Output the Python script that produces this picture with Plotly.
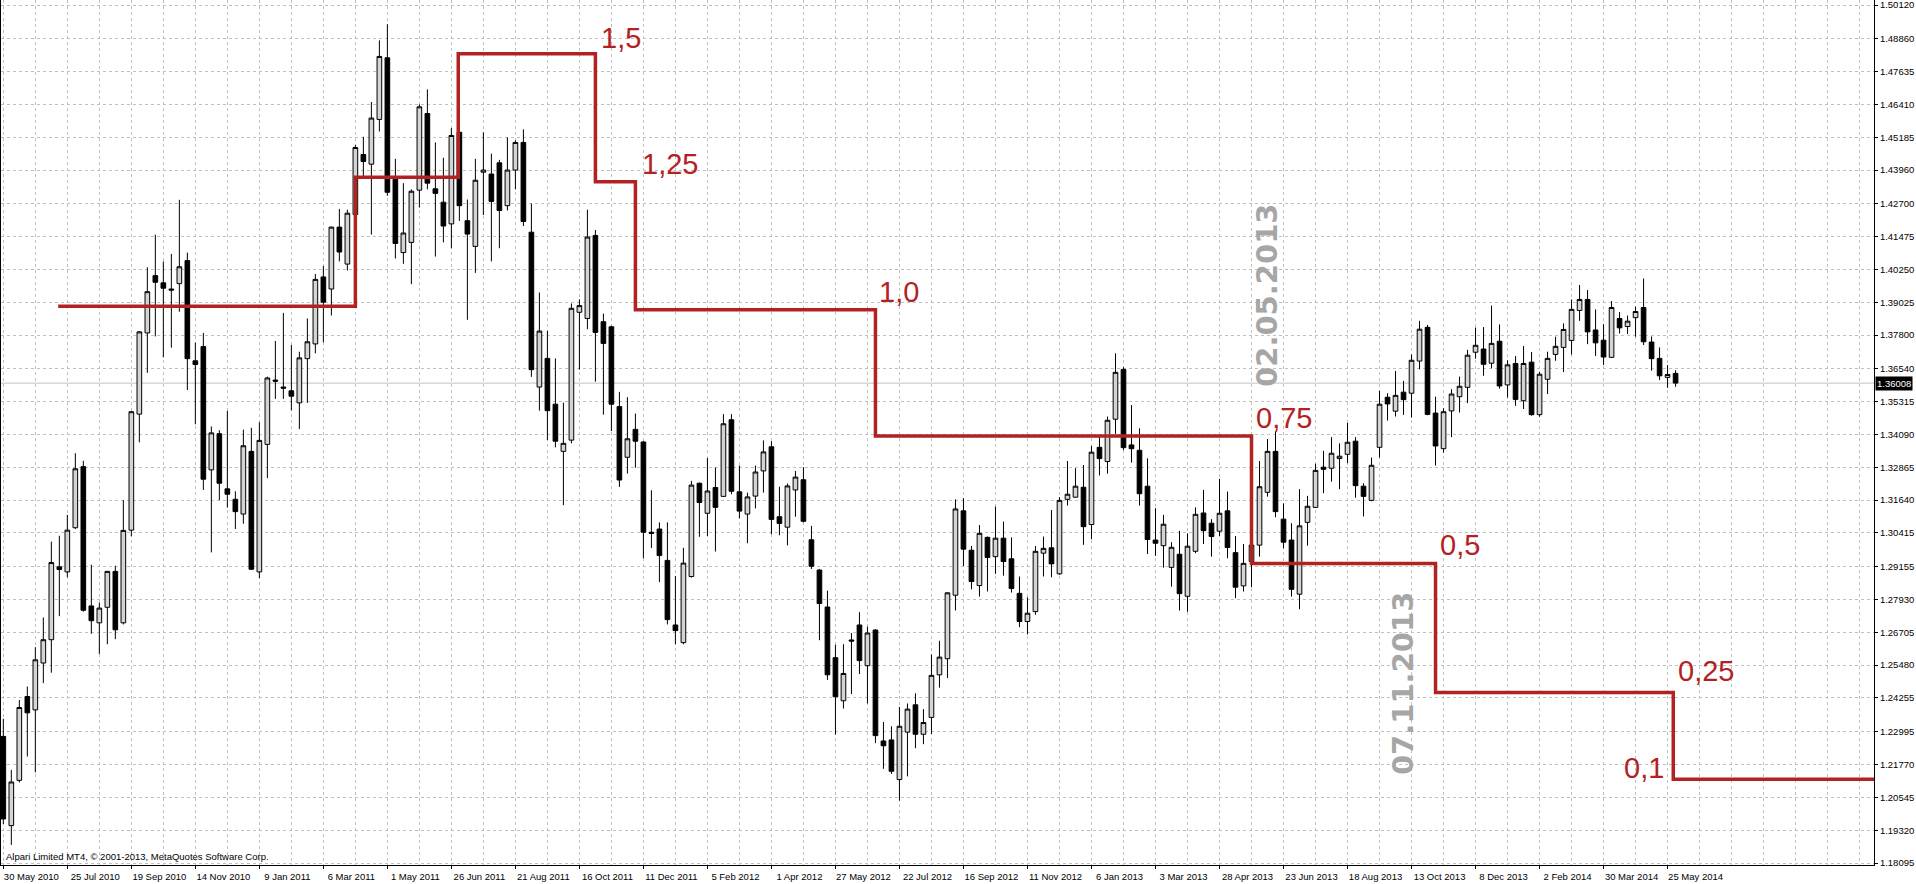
import pandas as pd
import plotly.graph_objects as go

# weekly EUR/USD candles (MT4), first week starts 30 May 2010
first_week = "2010-05-30"

opens = [
    1.2282, 1.1949, 1.2118, 1.2431, 1.2381, 1.2556, 1.2643, 1.2915, 1.2896, 1.3061,
    1.3289, 1.2769, 1.2706, 1.2764, 1.2898, 1.2706, 1.3052, 1.3485, 1.3788, 1.4002,
    1.3975, 1.3952, 1.3972, 1.4058, 1.3684, 1.3737, 1.3277, 1.3412, 1.3206, 1.3167,
    1.3112, 1.3346, 1.2896, 1.3372, 1.3612, 1.3586, 1.3572, 1.3527, 1.3692, 1.3747,
    1.3997, 1.3952, 1.4183, 1.4045, 1.4230, 1.4454, 1.4418, 1.4585, 1.4815, 1.4362,
    1.4088, 1.4126, 1.4321, 1.4607, 1.4326, 1.4276, 1.4195, 1.4537, 1.4207, 1.4111,
    1.4388, 1.4381, 1.4423, 1.4263, 1.4396, 1.4499, 1.4164, 1.3586, 1.3693, 1.3522,
    1.3346, 1.3388, 1.3865, 1.3842, 1.4152, 1.3830, 1.3811, 1.3513, 1.3324, 1.3428,
    1.3381, 1.3044, 1.3056, 1.2939, 1.2698, 1.2632, 1.2879, 1.3227, 1.3115, 1.3211,
    1.3178, 1.3464, 1.3195, 1.3112, 1.3179, 1.3273, 1.3363, 1.3102, 1.3063, 1.3202,
    1.3240, 1.3016, 1.2903, 1.2765, 1.2576, 1.2415, 1.2642, 1.2698, 1.2546, 1.2679,
    1.2265, 1.2269, 1.2121, 1.2298, 1.2400, 1.2290, 1.2353, 1.2512, 1.2572, 1.2809,
    1.3124, 1.2977, 1.2845, 1.3025, 1.2953, 1.3022, 1.2945, 1.2816, 1.2711, 1.2748,
    1.2966, 1.2986, 1.2889, 1.3167, 1.3175, 1.3212, 1.3073, 1.3361, 1.3308, 1.3466,
    1.3652, 1.3370, 1.3350, 1.3216, 1.3015, 1.2994, 1.2913, 1.2962, 1.2805, 1.2973,
    1.3116, 1.3078, 1.3048, 1.3124, 1.2968, 1.2844, 1.2935, 1.2996, 1.3193, 1.3346,
    1.3093, 1.3015, 1.2813, 1.3081, 1.3137, 1.3287, 1.3283, 1.3319, 1.3335, 1.3384,
    1.3216, 1.3163, 1.3361, 1.3548, 1.3496, 1.3567, 1.3563, 1.3683, 1.3809, 1.3489,
    1.3356, 1.3497, 1.3550, 1.3585, 1.3716, 1.3728, 1.3675, 1.3757, 1.3594, 1.3674,
    1.3535, 1.3679, 1.3483, 1.3615, 1.3708, 1.3734, 1.3760, 1.3872, 1.3913, 1.3799,
    1.3761, 1.3697, 1.3842, 1.3812, 1.3845, 1.3883, 1.3754, 1.3693, 1.3622, 1.3637,
]
highs = [
    1.2348, 1.2157, 1.2418, 1.2468, 1.2615, 1.2726, 1.3009, 1.3031, 1.3109, 1.3339,
    1.3311, 1.2923, 1.2781, 1.2900, 1.2919, 1.3164, 1.3497, 1.3795, 1.4033, 1.4155,
    1.4055, 1.4083, 1.4285, 1.4088, 1.3752, 1.3788, 1.3439, 1.3425, 1.3497, 1.3197,
    1.3427, 1.3434, 1.3455, 1.3625, 1.3758, 1.3863, 1.3743, 1.3718, 1.3842, 1.4008,
    1.4038, 1.4185, 1.4251, 1.4248, 1.4490, 1.4520, 1.4650, 1.4880, 1.4940, 1.4438,
    1.4347, 1.4324, 1.4641, 1.4697, 1.4499, 1.4442, 1.4553, 1.4579, 1.4286, 1.4438,
    1.4537, 1.4457, 1.4434, 1.4518, 1.4507, 1.4548, 1.4271, 1.3939, 1.3796, 1.3693,
    1.3528, 1.3898, 1.3913, 1.4248, 1.4172, 1.3860, 1.3815, 1.3568, 1.3548, 1.3487,
    1.3385, 1.3201, 1.3081, 1.3081, 1.2881, 1.2986, 1.3236, 1.3230, 1.3321, 1.3286,
    1.3485, 1.3485, 1.3293, 1.3192, 1.3293, 1.3387, 1.3384, 1.3214, 1.3226, 1.3273,
    1.3287, 1.3068, 1.2907, 1.2826, 1.2624, 1.2626, 1.2668, 1.2746, 1.2692, 1.2683,
    1.2336, 1.2320, 1.2392, 1.2405, 1.2443, 1.2384, 1.2588, 1.2639, 1.2820, 1.3167,
    1.3171, 1.2993, 1.3071, 1.3028, 1.3140, 1.3084, 1.3025, 1.2879, 1.2801, 1.2993,
    1.3028, 1.3127, 1.3175, 1.3310, 1.3283, 1.3295, 1.3366, 1.3404, 1.3476, 1.3712,
    1.3660, 1.3519, 1.3432, 1.3320, 1.3134, 1.3109, 1.3007, 1.3049, 1.3040, 1.3137,
    1.3202, 1.3093, 1.3243, 1.3196, 1.3030, 1.3000, 1.3050, 1.3310, 1.3392, 1.3420,
    1.3152, 1.3078, 1.3205, 1.3180, 1.3300, 1.3348, 1.3399, 1.3376, 1.3452, 1.3399,
    1.3227, 1.3323, 1.3572, 1.3563, 1.3646, 1.3609, 1.3708, 1.3833, 1.3818, 1.3550,
    1.3507, 1.3578, 1.3625, 1.3725, 1.3808, 1.3810, 1.3890, 1.3820, 1.3686, 1.3702,
    1.3739, 1.3717, 1.3643, 1.3718, 1.3774, 1.3824, 1.3913, 1.3967, 1.3948, 1.3876,
    1.3821, 1.3907, 1.3866, 1.3853, 1.3886, 1.3991, 1.3775, 1.3734, 1.3668, 1.3649,
]
lows = [
    1.1955, 1.1877, 1.2110, 1.2207, 1.2148, 1.2481, 1.2520, 1.2731, 1.2876, 1.3056,
    1.2748, 1.2665, 1.2590, 1.2626, 1.2645, 1.2700, 1.3029, 1.3380, 1.3639, 1.3775,
    1.3697, 1.3733, 1.3867, 1.3575, 1.3447, 1.3202, 1.2969, 1.3164, 1.3136, 1.3056,
    1.3076, 1.2903, 1.2873, 1.3246, 1.3542, 1.3542, 1.3499, 1.3429, 1.3527, 1.3712,
    1.3753, 1.3853, 1.4055, 1.4021, 1.4151, 1.4366, 1.4155, 1.4540, 1.4300, 1.4066,
    1.4046, 1.3970, 1.4256, 1.4324, 1.4073, 1.4126, 1.4104, 1.4206, 1.3837, 1.4012,
    1.4228, 1.4055, 1.4104, 1.4245, 1.4324, 1.4187, 1.3624, 1.3498, 1.3388, 1.3361,
    1.3145, 1.3376, 1.3651, 1.3802, 1.3606, 1.3483, 1.3422, 1.3213, 1.3263, 1.3285,
    1.2947, 1.2985, 1.2858, 1.2700, 1.2626, 1.2626, 1.2875, 1.3027, 1.3030, 1.2972,
    1.3176, 1.3186, 1.3096, 1.3003, 1.3133, 1.3192, 1.3037, 1.3033, 1.2995, 1.3102,
    1.3081, 1.2907, 1.2641, 1.2493, 1.2289, 1.2386, 1.2440, 1.2515, 1.2405, 1.2257,
    1.2161, 1.2142, 1.2042, 1.2133, 1.2238, 1.2253, 1.2291, 1.2464, 1.2500, 1.2752,
    1.2918, 1.2831, 1.2804, 1.2823, 1.2889, 1.2882, 1.2819, 1.2690, 1.2663, 1.2736,
    1.2879, 1.2876, 1.2885, 1.3144, 1.3173, 1.2997, 1.3018, 1.3256, 1.3263, 1.3411,
    1.3351, 1.3304, 1.3144, 1.2963, 1.2956, 1.2912, 1.2841, 1.2752, 1.2747, 1.2966,
    1.3000, 1.2953, 1.3030, 1.2947, 1.2798, 1.2823, 1.2839, 1.2953, 1.3177, 1.3100,
    1.2984, 1.2804, 1.2757, 1.2994, 1.3136, 1.3190, 1.3233, 1.3205, 1.3302, 1.3173,
    1.3103, 1.3160, 1.3323, 1.3461, 1.3476, 1.3482, 1.3472, 1.3652, 1.3481, 1.3293,
    1.3341, 1.3399, 1.3491, 1.3526, 1.3692, 1.3628, 1.3656, 1.3580, 1.3547, 1.3516,
    1.3504, 1.3479, 1.3475, 1.3560, 1.3684, 1.3642, 1.3707, 1.3833, 1.3746, 1.3702,
    1.3668, 1.3695, 1.3786, 1.3784, 1.3774, 1.3743, 1.3647, 1.3612, 1.3583, 1.3587,
]
closes = [
    1.1974, 1.2112, 1.2390, 1.2370, 1.2568, 1.2643, 1.2931, 1.2905, 1.3052, 1.3281,
    1.2753, 1.2714, 1.2761, 1.2898, 1.2680, 1.3051, 1.3494, 1.3792, 1.3942, 1.3977,
    1.3955, 1.3948, 1.4035, 1.3692, 1.3670, 1.3242, 1.3415, 1.3227, 1.3186, 1.3121,
    1.3367, 1.2906, 1.3387, 1.3620, 1.3608, 1.3582, 1.3552, 1.3695, 1.3755, 1.3988,
    1.3903, 1.4183, 1.4090, 1.4235, 1.4480, 1.4428, 1.4590, 1.4820, 1.4313, 1.4122,
    1.4161, 1.4317, 1.4632, 1.4347, 1.4309, 1.4187, 1.4525, 1.4263, 1.4157, 1.4358,
    1.4396, 1.4279, 1.4245, 1.4396, 1.4499, 1.4204, 1.3651, 1.3795, 1.3498, 1.3384,
    1.3376, 1.3880, 1.3890, 1.4146, 1.3790, 1.3749, 1.3522, 1.3239, 1.3393, 1.3384,
    1.3044, 1.3040, 1.2957, 1.2718, 1.2677, 1.2929, 1.3220, 1.3155, 1.3198, 1.3137,
    1.3449, 1.3197, 1.3123, 1.3176, 1.3269, 1.3344, 1.3092, 1.3077, 1.3217, 1.3250,
    1.3085, 1.2917, 1.2778, 1.2512, 1.2430, 1.2517, 1.2638, 1.2565, 1.2668, 1.2285,
    1.2247, 1.2152, 1.2320, 1.2384, 1.2290, 1.2334, 1.2510, 1.2578, 1.2818, 1.3131,
    1.2981, 1.2860, 1.3040, 1.2950, 1.3022, 1.2935, 1.2834, 1.2711, 1.2742, 1.2973,
    1.2984, 1.2926, 1.3163, 1.3186, 1.3216, 1.3065, 1.3343, 1.3319, 1.3462, 1.3641,
    1.3360, 1.3356, 1.3188, 1.3017, 1.3003, 1.3074, 1.2988, 1.2815, 1.2992, 1.3111,
    1.3050, 1.3028, 1.3115, 1.2987, 1.2839, 1.2928, 1.2996, 1.3214, 1.3346, 1.3121,
    1.3007, 1.2831, 1.3068, 1.3141, 1.3275, 1.3279, 1.3339, 1.3328, 1.3380, 1.3218,
    1.3178, 1.3294, 1.3522, 1.3523, 1.3555, 1.3539, 1.3686, 1.3802, 1.3484, 1.3366,
    1.3494, 1.3560, 1.3589, 1.3705, 1.3742, 1.3671, 1.3749, 1.3590, 1.3669, 1.3540,
    1.3674, 1.3483, 1.3634, 1.3693, 1.3738, 1.3801, 1.3876, 1.3913, 1.3792, 1.3751,
    1.3698, 1.3883, 1.3807, 1.3832, 1.3868, 1.3755, 1.3692, 1.3628, 1.3633, 1.36008,
]

# hand-drawn ECB rate steps, as price levels on the chart
rate_dates = ["2010-07-17", "2011-04-03", "2011-07-02", "2011-10-30", "2011-12-04",
              "2012-07-01", "2013-05-26", "2013-11-03", "2014-05-30"]
rate_levels = [1.3888, 1.4369, 1.4830, 1.4352, 1.3875, 1.3403, 1.2927, 1.2446, 1.2122]

price_ticks = [1.50120, 1.48860, 1.47635, 1.46410, 1.45185, 1.43960, 1.42700, 1.41475,
               1.40250, 1.39025, 1.37800, 1.36540, 1.35315, 1.34090, 1.32865, 1.31640,
               1.30415, 1.29155, 1.27930, 1.26705, 1.25480, 1.24255, 1.22995, 1.21770,
               1.20545, 1.19320, 1.18095]

RED = "#B22222"
GRID = "#C0C0C0"
WEEK_MS = 7 * 24 * 3600 * 1000
AXIS_FONT = dict(family="Liberation Sans, Arial", size=9.5, color="black")

start = pd.Timestamp(first_week)
weeks = pd.date_range(start, periods=len(opens), freq="7D")


def week_pos(w):
    return start + pd.Timedelta(days=7 * w)


x_left = week_pos(-0.29)
x_right = week_pos(233.8)

fig = go.Figure()

fig.add_trace(go.Scatter(
    x=[pd.Timestamp(d) for d in rate_dates] + [x_right],
    y=rate_levels + [rate_levels[-1]],
    mode="lines", line=dict(color=RED, width=3.5, shape="hv"),
    hoverinfo="skip", showlegend=False))

fig.add_trace(go.Candlestick(
    x=weeks, open=opens, high=highs, low=lows, close=closes,
    increasing=dict(line=dict(color="black", width=1), fillcolor="#D4D4D4"),
    decreasing=dict(line=dict(color="black", width=1), fillcolor="black"),
    whiskerwidth=0, showlegend=False))

# current price line + label
fig.add_shape(type="line", xref="paper", x0=0, x1=1, y0=closes[-1], y1=closes[-1],
              line=dict(color=GRID, width=1), layer="between")
fig.add_annotation(xref="paper", x=1, y=closes[-1], text=f"{closes[-1]:.5f}",
                   showarrow=False, xanchor="left", xshift=1, bgcolor="black",
                   borderpad=1, font=dict(family="Liberation Sans, Arial", size=9.5, color="white"))

# rate labels
rate_text = [("1,5", 74.5, 1.4900), ("1,25", 79.6, 1.4430), ("1,0", 109.2, 1.3952),
             ("0,75", 156.3, 1.3482), ("0,5", 179.3, 1.3008), ("0,25", 209.1, 1.2537),
             ("0,1", 202.3, 1.2175)]
for txt, w, y in rate_text:
    fig.add_annotation(x=week_pos(w), y=y, text=txt, showarrow=False,
                       xanchor="left", yanchor="middle", yshift=-3,
                       font=dict(family="Liberation Sans, Arial", size=29, color=RED))

for txt, w, y in [("02.05.2013", 158.0, 1.3928), ("07.11.2013", 174.96, 1.2478)]:
    fig.add_annotation(x=week_pos(w), y=y, text=f"<b>{txt}</b>", showarrow=False,
                       textangle=-90, xanchor="center", yanchor="middle",
                       font=dict(family="DejaVu Sans", size=29, color="#A6A6A6"))

fig.add_annotation(xref="paper", yref="paper", x=0, y=0, xanchor="left", yanchor="bottom",
                   xshift=3, yshift=1, showarrow=False,
                   text="Alpari Limited MT4, © 2001-2013, MetaQuotes Software Corp.",
                   font=AXIS_FONT)

fig.update_layout(
    width=1916, height=884,
    margin=dict(l=1, r=42, t=0, b=19),
    paper_bgcolor="white", plot_bgcolor="white",
    boxgap=0.42, boxgroupgap=0,
    xaxis=dict(
        type="date", range=[x_left, x_right], rangeslider=dict(visible=False),
        tickmode="array", tickvals=list(weeks[::8]), tickformat="%-d %b %Y",
        showgrid=False, zeroline=False,
        minor=dict(tickmode="linear", tick0=first_week, dtick=4 * WEEK_MS, showgrid=True,
                   gridcolor=GRID, griddash="3px,3px", gridwidth=1, ticks=""),
        showline=True, linecolor="black", linewidth=1,
        ticks="outside", ticklen=3, tickcolor="black",
        ticklabelshift=28, ticklabeloverflow="allow", tickfont=AXIS_FONT),
    yaxis=dict(
        side="right", range=[1.18021, 1.50307],
        tickmode="array", tickvals=price_ticks, ticktext=[f"{v:.5f}" for v in price_ticks],
        showgrid=True, gridcolor=GRID, griddash="3px,3px", gridwidth=1, zeroline=False,
        showline=True, mirror=True, linecolor="black", linewidth=1,
        ticks="outside", ticklen=3, tickcolor="black",
        ticklabeloverflow="allow", tickfont=AXIS_FONT),
)

fig.write_html("out.html", config={"displayModeBar": False},
               post_script="document.body.style.margin='0';document.body.style.overflow='hidden';")
